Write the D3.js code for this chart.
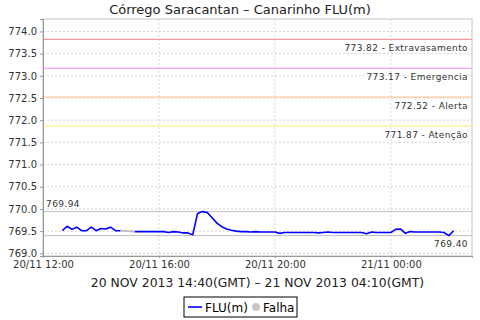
<!DOCTYPE html>
<html>
<head>
<meta charset="utf-8">
<script src="https://cdn.jsdelivr.net/npm/d3@7"></script>
<style>
  body { margin: 0; background: #fff; }
  text { font-family: "DejaVu Sans", sans-serif; }
</style>
</head>
<body>
<div id="viz"></div>
<script>
const W = 480, H = 320;
const M = { top: 19, right: 8, bottom: 64, left: 43 };

// readings every 10 minutes, local time (20/11 -> 21/11); 14:50 and 15:00 missing
const times = [
  "12:40","12:50","13:00","13:10","13:20","13:30","13:40","13:50","14:00","14:10","14:20","14:30","14:40",
  "15:10","15:20","15:30","15:40","15:50","16:00","16:10","16:20","16:30","16:40","16:50","17:00","17:10",
  "17:20","17:30","17:40","17:50","18:00","18:10","18:20","18:30","18:40","18:50","19:00","19:10","19:20",
  "19:30","19:40","19:50","20:00","20:10","20:20","20:30","20:40","20:50","21:00","21:10","21:20","21:30",
  "21:40","21:50","22:00","22:10","22:20","22:30","22:40","22:50","23:00","23:10","23:20","23:30","23:40",
  "23:50","00:00","00:10","00:20","00:30","00:40","00:50","01:00","01:10","01:20","01:30","01:40","01:50",
  "02:00","02:10"
];
const flu = [
  769.51,769.61,769.54,769.59,769.51,769.51,769.59,769.51,769.56,769.55,769.59,769.51,769.51,
  769.49,769.49,769.49,769.49,769.49,769.49,769.49,769.47,769.49,769.48,769.46,769.46,769.42,
  769.90,769.94,769.92,769.80,769.68,769.60,769.55,769.52,769.50,769.49,769.49,769.48,769.49,
  769.48,769.48,769.48,769.48,769.45,769.47,769.47,769.47,769.47,769.47,769.47,769.47,769.46,
  769.47,769.48,769.47,769.47,769.47,769.47,769.47,769.47,769.47,769.44,769.48,769.47,769.47,
  769.47,769.47,769.54,769.55,769.45,769.49,769.48,769.48,769.48,769.48,769.48,769.48,769.47,
  769.40,769.51
];
// Falha: link over the missing readings
const gapTimes = ["14:40", "15:10"];
const gapValues = [769.51, 769.49];

const thresholds = [
  { value: 773.82, name: "Extravasamento", color: "#f29a9a" },
  { value: 773.17, name: "Emergencia",     color: "#ff88ff" },
  { value: 772.52, name: "Alerta",         color: "#ffc898" },
  { value: 771.87, name: "Atenção",        color: "#fff08a" }
];
const maxValue = 769.94, minValue = 769.40;
const yTicks = [769.0, 769.5, 770.0, 770.5, 771.0, 771.5, 772.0, 772.5, 773.0, 773.5, 774.0];
const xTicks = ["20 12:00", "20 16:00", "20 20:00", "21 00:00"];
const xDomain = ["20 12:00", "21 02:48"];
const yDomain = [768.94, 774.28];

const title = "Córrego Saracantan – Canarinho FLU(m)";
const xLabel = "20 NOV 2013 14:40(GMT) – 21 NOV 2013 04:10(GMT)";

function parseDT(s) {            // "dd HH:MM"
  const [d, hm] = s.split(" ");
  const [h, m] = hm.split(":").map(Number);
  return new Date(Date.UTC(2013, 10, +d, h, m));
}
function parseT(s) {             // afternoon is 20/11, after midnight is 21/11
  const h = +s.slice(0, 2);
  return parseDT((h < 12 ? "21 " : "20 ") + s);
}

const svg = d3.select("#viz").append("svg").attr("width", W).attr("height", H);
const pw = W - M.left - M.right, ph = H - M.top - M.bottom;
const g = svg.append("g").attr("transform", `translate(${M.left},${M.top})`);

const x = d3.scaleUtc().domain(xDomain.map(parseDT)).range([0, pw]);
const y = d3.scaleLinear().domain(yDomain).range([ph, 0]);

svg.append("text").text(title)
  .attr("x", W / 2).attr("y", 14).attr("text-anchor", "middle")
  .attr("font-size", 13).attr("fill", "#222");

// grid
g.append("g").selectAll("line").data(yTicks).join("line")
  .attr("x1", 0).attr("x2", pw).attr("y1", d => y(d)).attr("y2", d => y(d))
  .attr("stroke", "#d4d4d4").attr("stroke-dasharray", "2,2");
g.append("g").selectAll("line").data(xTicks.map(parseDT)).join("line")
  .attr("x1", d => x(d)).attr("x2", d => x(d)).attr("y1", 0).attr("y2", ph)
  .attr("stroke", "#d4d4d4").attr("stroke-dasharray", "2,2");

// frame
g.append("rect").attr("width", pw).attr("height", ph)
  .attr("fill", "none").attr("stroke", "#c4c4c4");

// thresholds
thresholds.forEach(t => {
  g.append("line").attr("x1", 0).attr("x2", pw)
    .attr("y1", y(t.value)).attr("y2", y(t.value))
    .attr("stroke", t.color).attr("stroke-width", 1.2);
  g.append("text").text(`${t.value.toFixed(2)} - ${t.name}`)
    .attr("x", pw - 4).attr("y", y(t.value) + 12).attr("text-anchor", "end")
    .attr("font-size", 9).attr("letter-spacing", 0.4).attr("fill", "#333");
});

// max / min markers
g.append("line").attr("x1", 0).attr("x2", pw).attr("y1", y(maxValue)).attr("y2", y(maxValue))
  .attr("stroke", "#c0c0c0");
g.append("line").attr("x1", 0).attr("x2", pw).attr("y1", y(minValue)).attr("y2", y(minValue))
  .attr("stroke", "#c0c0c0");
g.append("text").text(maxValue.toFixed(2)).attr("x", 3).attr("y", y(maxValue) - 5)
  .attr("font-size", 9).attr("letter-spacing", 0.4).attr("fill", "#333");
g.append("text").text(minValue.toFixed(2)).attr("x", pw - 4).attr("y", y(minValue) + 11)
  .attr("text-anchor", "end").attr("font-size", 9).attr("letter-spacing", 0.4).attr("fill", "#333");

// axes
const yAxis = g.append("g").call(d3.axisLeft(y).tickValues(yTicks).tickFormat(d3.format(".1f")).tickSize(3).tickPadding(3));
const xAxis = g.append("g").attr("transform", `translate(0,${ph})`)
  .call(d3.axisBottom(x).tickValues(xTicks.map(parseDT)).tickFormat(d3.utcFormat("%d/%m %H:%M")).tickSize(2).tickPadding(3));
[yAxis, xAxis].forEach(a => {
  a.select(".domain").attr("stroke", "#999");
  a.selectAll(".tick line").attr("stroke", "#999");
  a.selectAll("text").attr("font-size", 10).attr("fill", "#333").attr("font-family", "DejaVu Sans");
});

svg.append("text").text(xLabel)
  .attr("x", M.left + pw / 2).attr("y", 287).attr("text-anchor", "middle")
  .attr("font-size", 12.4).attr("fill", "#222");

// series
const series = times.map((t, i) => ({ t: parseT(t), v: flu[i] }));
const gap = gapTimes.map((t, i) => ({ t: parseT(t), v: gapValues[i] }));
const line = d3.line().x(d => x(d.t)).y(d => y(d.v));

g.append("path").datum(gap).attr("d", line)
  .attr("fill", "none").attr("stroke", "#c0c0c0").attr("stroke-width", 2);

// split at the missing readings
const parts = [series.slice(0, 13), series.slice(13)];
parts.forEach(p => g.append("path").datum(p).attr("d", line)
  .attr("fill", "none").attr("stroke", "#0000ff").attr("stroke-width", 1.6)
  .attr("stroke-linejoin", "round"));

// legend
const lg = svg.append("g").attr("transform", "translate(184,297)");
lg.append("rect").attr("width", 113).attr("height", 20)
  .attr("fill", "#fff").attr("stroke", "#000");
lg.append("line").attr("x1", 4).attr("x2", 18).attr("y1", 10).attr("y2", 10)
  .attr("stroke", "#0000ff").attr("stroke-width", 1.6);
lg.append("text").text("FLU(m)").attr("x", 21).attr("y", 15)
  .attr("font-size", 12).attr("fill", "#000");
lg.append("circle").attr("cx", 72).attr("cy", 10).attr("r", 4).attr("fill", "#c8c8c8");
lg.append("text").text("Falha").attr("x", 79).attr("y", 15)
  .attr("font-size", 12).attr("fill", "#000");
</script>
</body>
</html>
